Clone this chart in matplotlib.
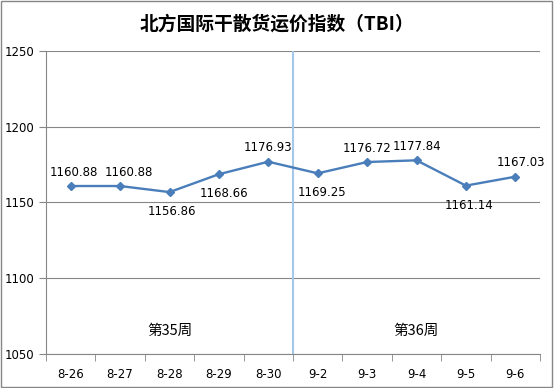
import matplotlib.pyplot as plt
from matplotlib.patches import Rectangle

plt.rcParams['font.family'] = ['Noto Sans CJK SC', 'DejaVu Sans']

dates = ["8-26", "8-27", "8-28", "8-29", "8-30", "9-2", "9-3", "9-4", "9-5", "9-6"]
tbi = [1160.88, 1160.88, 1156.86, 1168.66, 1176.93, 1169.25, 1176.72, 1177.84, 1161.14, 1167.03]
label_pos = ["above", "above", "below", "below", "above", "below", "above", "above", "below", "above"]
weeks = ["第35周", "第36周"]

line_col = "#4A7EBB"

fig = plt.figure(figsize=(5.54, 3.88), dpi=100)
ax = fig.add_axes([46 / 554, 34 / 388, 494 / 554, 303 / 388])

x = list(range(len(dates)))
ax.plot(x, tbi, color=line_col, lw=1.7, marker="D", ms=4.5, zorder=3)

# small sideways nudges so labels don't collide
dx = [2, 6, 2, 4, 0, 3, 0, 0, 2, 4]
for xi, v, p, d in zip(x, tbi, label_pos, dx):
    dy = 10 if p == "above" else -14
    ax.annotate(f"{v:.2f}", (xi, v), xytext=(d, dy), textcoords="offset points",
                ha="center", va="center", fontsize=8.5, family="DejaVu Sans")

# week divider
ax.axvline(4.5, color="#A6C8E8", lw=1.5, zorder=2)
ax.text(2, 1065, weeks[0], ha="center", va="center", fontsize=10.5)
ax.text(7, 1065, weeks[1], ha="center", va="center", fontsize=10.5)

ax.set_xlim(-0.5, len(dates) - 0.5)
ax.set_ylim(1050, 1250)
ax.set_yticks([1050, 1100, 1150, 1200, 1250])
ax.set_xticks(x)
ax.set_xticklabels(dates, fontsize=8.5, family="DejaVu Sans")
ax.set_xticks([i + 0.5 for i in range(-1, len(dates))], minor=True)
ax.tick_params(axis="x", which="major", length=0, pad=10)
ax.tick_params(axis="x", which="minor", length=5, color="#868686", direction="out")
ax.tick_params(axis="y", length=5, color="#868686", labelsize=8.5)
for lab in ax.get_yticklabels():
    lab.set_family("DejaVu Sans")

ax.grid(axis="y", color="#868686", lw=0.8)
ax.set_axisbelow(True)
for s in ["top", "right"]:
    ax.spines[s].set_visible(False)
ax.spines["left"].set_color("#868686")
ax.spines["bottom"].set_color("#868686")

fig.text(0.5, 1 - 24 / 388, "北方国际干散货运价指数（TBI）", ha="center", va="center",
         fontsize=13.5, fontweight="bold")

fig.patches.append(Rectangle((0.002, 0.003), 0.995, 0.994, transform=fig.transFigure,
                             fill=False, edgecolor="#868686", lw=1))

fig.savefig("out.png", dpi=100)
